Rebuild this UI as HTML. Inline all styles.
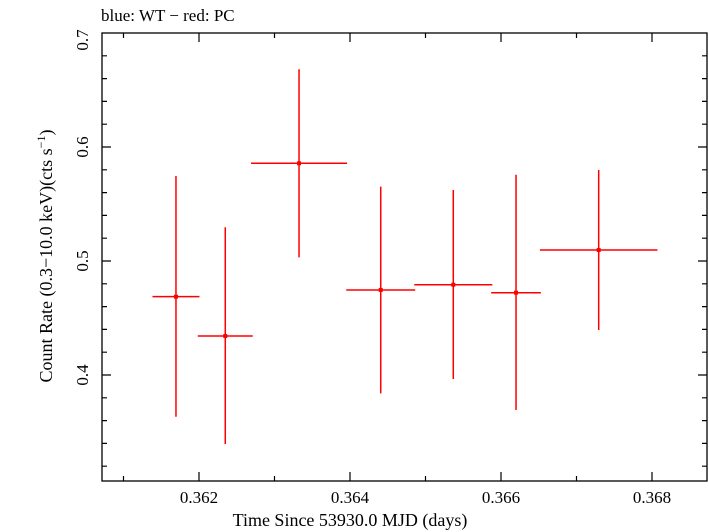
<!DOCTYPE html>
<html><head><meta charset="utf-8"><style>
body{margin:0;background:#fff}
svg{display:block;font-family:"Liberation Serif",serif}
</style></head><body>
<svg id="c" width="709" height="532" xmlns="http://www.w3.org/2000/svg">
<text x="101" y="21" font-size="17">blue: WT − red: PC</text>
<text x="350" y="526" font-size="18" text-anchor="middle">Time Since 53930.0 MJD (days)</text>
<text transform="translate(52,256) rotate(-90)" font-size="18" text-anchor="middle">Count Rate (0.3−10.0 keV)(cts s<tspan font-size="12" dy="-7">−1</tspan><tspan dy="7">)</tspan></text>
<g id="axes"></g>
<g id="marks"></g>
</svg>
<script>
const times=[0.361695,0.362348,0.363325,0.364407,0.365368,0.366199,0.367294];
const timeErr=[0.000311,0.000364,0.000636,0.000457,0.000517,0.000329,0.000779];
const rates=[0.4687,0.4342,0.5857,0.4746,0.4792,0.4722,0.5096];
const rateHi=[0.5746,0.5296,0.6682,0.5652,0.5623,0.5757,0.5798];
const rateLo=[0.3634,0.3395,0.5032,0.3839,0.3965,0.3693,0.4395];
const xTicks=[0.362,0.364,0.366,0.368];
const xTickLabels=["0.362","0.364","0.366","0.368"];
const yTicks=[0.4,0.5,0.6,0.7];
const yTickLabels=["0.4","0.5","0.6","0.7"];
const NS="http://www.w3.org/2000/svg";
const L=102,R=707,T=33,B=481;
const X=v=>199+(v-0.362)*75500;
const Y=v=>147-(v-0.6)*1140;
function mk(tag,attrs,parent){const e=document.createElementNS(NS,tag);for(const k in attrs)e.setAttribute(k,attrs[k]);parent.appendChild(e);return e;}
const ax=document.getElementById('axes');
const fr=mk('rect',{x:L,y:T,width:R-L,height:B-T,fill:'none',stroke:'#000','stroke-width':1.3},ax);


for(let i=0;i<=12;i++){const v=0.360+i*0.001;const x=X(v);if(x<L+1||x>R-1)continue;
 const major=i%2===0;const len=major?9:5;
 const t=mk('path',{d:`M${x},${B}v${-len}M${x},${T}v${len}`,stroke:'#000','stroke-width':1.2},ax);
 
 }
for(let i=0;i<=25;i++){const v=0.30+i*0.02;const y=Y(v);if(y<T+1||y>B-1)continue;
 const major=i%5===0;const len=major?9:5;
 const t=mk('path',{d:`M${L},${y}h${len}M${R},${y}h${-len}`,stroke:'#000','stroke-width':1.2},ax);
 
 }
xTicks.forEach((v,i)=>{const t=mk('text',{x:X(v),y:503,'font-size':17,'text-anchor':'middle'},ax);t.textContent=xTickLabels[i];
 
 });
yTicks.forEach((v,i)=>{let cy=Y(v);if(cy<40)cy=40;const t=mk('text',{transform:`translate(88,${cy}) rotate(-90)`,'font-size':17,'text-anchor':'middle'},ax);t.textContent=yTickLabels[i];
 
 });
const mg=document.getElementById('marks');
times.forEach((t,i)=>{const g=mk('g',{},mg);
 
 
 mk('path',{d:`M${X(t-timeErr[i])},${Y(rates[i])}H${X(t+timeErr[i])}M${X(t)},${Y(rateHi[i])}V${Y(rateLo[i])}`,stroke:'#f00','stroke-width':1.5,fill:'none'},g);
 mk('rect',{x:X(t)-2,y:Y(rates[i])-2,width:4,height:4,fill:'#f00'},g);});
</script>
</body></html>
